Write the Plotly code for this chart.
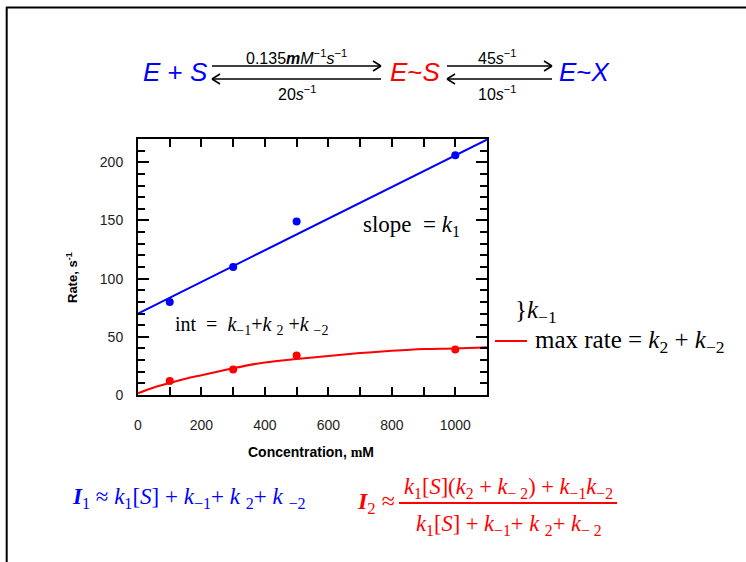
import plotly.graph_objects as go

# ---------------- data ----------------
conc_pts = [100, 300, 500, 1000]
rate1_pts = [80, 110, 149, 206]
rate2_pts = [12, 22, 34, 39]
fit1_x = [0, 1100]
fit1_y = [70, 219.5]
fit2_x = [0, 50, 100, 150, 200, 250, 300, 400, 500, 600, 700, 800, 900, 1000, 1100]
fit2_y = [1.5, 6.5, 10.3, 14, 17, 20, 23, 28, 31, 33.5, 36, 38, 39.5, 40, 41]
x_ticks = [0, 200, 400, 600, 800, 1000]
y_ticks = [0, 50, 100, 150, 200]

BLUE = "#0000ff"
RED = "#ff0000"
SANS = "Liberation Sans, Arial, sans-serif"
SERIF = "Liberation Serif, Times New Roman, serif"

W_FIG, H_FIG = 746, 562
L, R, T, B = 138, 259, 139, 167
PW = W_FIG - L - R
PH = H_FIG - T - B


def px(x):
    return (x - L) / PW


def py(y):
    return (H_FIG - B - y) / PH


def ann(text, x, y, size, color="black", family=SERIF, xanchor="center",
        yanchor="middle", textangle=0):
    return dict(text=text, x=px(x), y=py(y), xref="paper", yref="paper",
                showarrow=False, font=dict(size=size, color=color, family=family),
                xanchor=xanchor, yanchor=yanchor, textangle=textangle)


def seg(x1, y1, x2, y2, color="black", width=1.5):
    return dict(type="line", xref="paper", yref="paper",
                x0=px(x1), y0=py(y1), x1=px(x2), y1=py(y2),
                line=dict(color=color, width=width))


fig = go.Figure()
fig.add_trace(go.Scatter(x=fit1_x, y=fit1_y, mode="lines",
                         line=dict(color=BLUE, width=2), showlegend=False))
fig.add_trace(go.Scatter(x=fit2_x, y=fit2_y, mode="lines",
                         line=dict(color=RED, width=2, shape="spline"), showlegend=False))
fig.add_trace(go.Scatter(x=conc_pts, y=rate1_pts, mode="markers",
                         marker=dict(color=BLUE, size=8), showlegend=False))
fig.add_trace(go.Scatter(x=conc_pts, y=rate2_pts, mode="markers",
                         marker=dict(color=RED, size=8), showlegend=False))

shapes = []
# frame
shapes.append(seg(6, 7.5, 746, 7.5, width=2))
shapes.append(seg(6.7, 7, 6.7, 562, width=2))


# reaction arrows
def arrow_right(x1, x2, y):
    return [seg(x1, y, x2, y), seg(x2 - 8, y - 5, x2, y), seg(x2 - 8, y + 5, x2, y)]


def arrow_left(x1, x2, y):
    return [seg(x1, y, x2, y), seg(x1 + 8, y - 5, x1, y), seg(x1 + 8, y + 5, x1, y)]


shapes += arrow_right(212, 381, 66)
shapes += arrow_left(212, 381, 79)
shapes += arrow_right(447, 552, 66)
shapes += arrow_left(447, 552, 79)
# red legend line and fraction bar
shapes.append(seg(495, 341, 527, 341, color=RED, width=2))
shapes.append(seg(399, 503, 617, 503, color=RED, width=2))

annotations = [
    ann("<i>E</i> + <i>S</i>", 175, 72, 26, BLUE, SANS),
    ann("<i>E</i>~<i>S</i>", 415, 72, 26, RED, SANS),
    ann("<i>E</i>~<i>X</i>", 585, 72, 26, BLUE, SANS),
    ann("0.135<b><i>m</i></b><i>M</i><sup>−1</sup><i>s</i><sup>−1</sup>", 296, 57, 16, "black", SANS),
    ann("20<i>s</i><sup>−1</sup>", 297, 93, 16, "black", SANS),
    ann("45<i>s</i><sup>−1</sup>", 497, 57, 16, "black", SANS),
    ann("10<i>s</i><sup>−1</sup>", 497, 93, 16, "black", SANS),
    ann("slope  = <i>k</i><sub>1</sub>", 411, 226, 23),
    ann("int  =  <i>k</i><sub>−1</sub>+<i>k</i> <sub>2</sub> +<i>k</i> <sub>−2</sub>", 251, 325, 20),
    ann("}<i>k</i><sub>−1</sub>", 513, 311, 25, xanchor="left"),
    ann("max rate = <i>k</i><sub>2</sub> + <i>k</i><sub>−2</sub>", 533, 341, 25, xanchor="left"),
    ann("<b><i>I</i></b><sub>1</sub> ≈ <i>k</i><sub>1</sub>[<i>S</i>] + <i>k</i><sub>−1</sub>+ <i>k</i> <sub>2</sub>+ <i>k</i> <sub>−2</sub>",
        70, 498, 23, BLUE, xanchor="left"),
    ann("<b><i>I</i></b><sub>2</sub> ≈", 397, 503, 24, RED, xanchor="right"),
    ann("<i>k</i><sub>1</sub>[<i>S</i>](<i>k</i><sub>2</sub> + <i>k</i><sub>− 2</sub>) + <i>k</i><sub>−1</sub><i>k</i><sub>−2</sub>",
        508, 488, 22.5, RED),
    ann("<i>k</i><sub>1</sub>[<i>S</i>] + <i>k</i><sub>−1</sub>+ <i>k</i> <sub>2</sub>+ <i>k</i><sub>− 2</sub>",
        509, 525, 22.5, RED),
    ann("<b>Rate, s<sup>-1</sup></b>", 72, 278, 13, "black", SANS, textangle=-90),
    ann("<b>Concentration, <span style='font-family:Liberation Serif'>m</span>M</b>", 311, 452, 14, "black", SANS),
]

fig.update_layout(
    width=W_FIG, height=H_FIG,
    margin=dict(l=L, r=R, t=T, b=B, autoexpand=False),
    paper_bgcolor="white", plot_bgcolor="white",
    shapes=shapes, annotations=annotations, showlegend=False,
)
fig.update_xaxes(
    range=[0, 1100], tickvals=x_ticks, ticks="inside", ticklen=8, tickwidth=1.5,
    tickcolor="black", showline=True, linecolor="black", linewidth=2,
    mirror="ticks", showgrid=False, zeroline=False, automargin=False,
    ticklabelstandoff=16,
    tickfont=dict(family=SANS, size=14, color="#222"),
    minor=dict(dtick=100, tick0=0, ticks="inside", ticklen=8, tickwidth=1.5,
               tickcolor="black", showgrid=False),
)
fig.update_yaxes(
    range=[0, 220], tickvals=y_ticks, ticks="inside", ticklen=11, tickwidth=1.5,
    tickcolor="black", showline=True, linecolor="black", linewidth=2,
    mirror="ticks", showgrid=False, zeroline=False, automargin=False,
    ticklabelstandoff=10,
    tickfont=dict(family=SANS, size=14, color="#222"),
    minor=dict(dtick=10, tick0=0, ticks="inside", ticklen=7, tickwidth=1.5,
               tickcolor="black", showgrid=False),
)

fig.write_html("out.html", config={"displayModeBar": False},
               post_script="document.body.style.margin='0px';")
